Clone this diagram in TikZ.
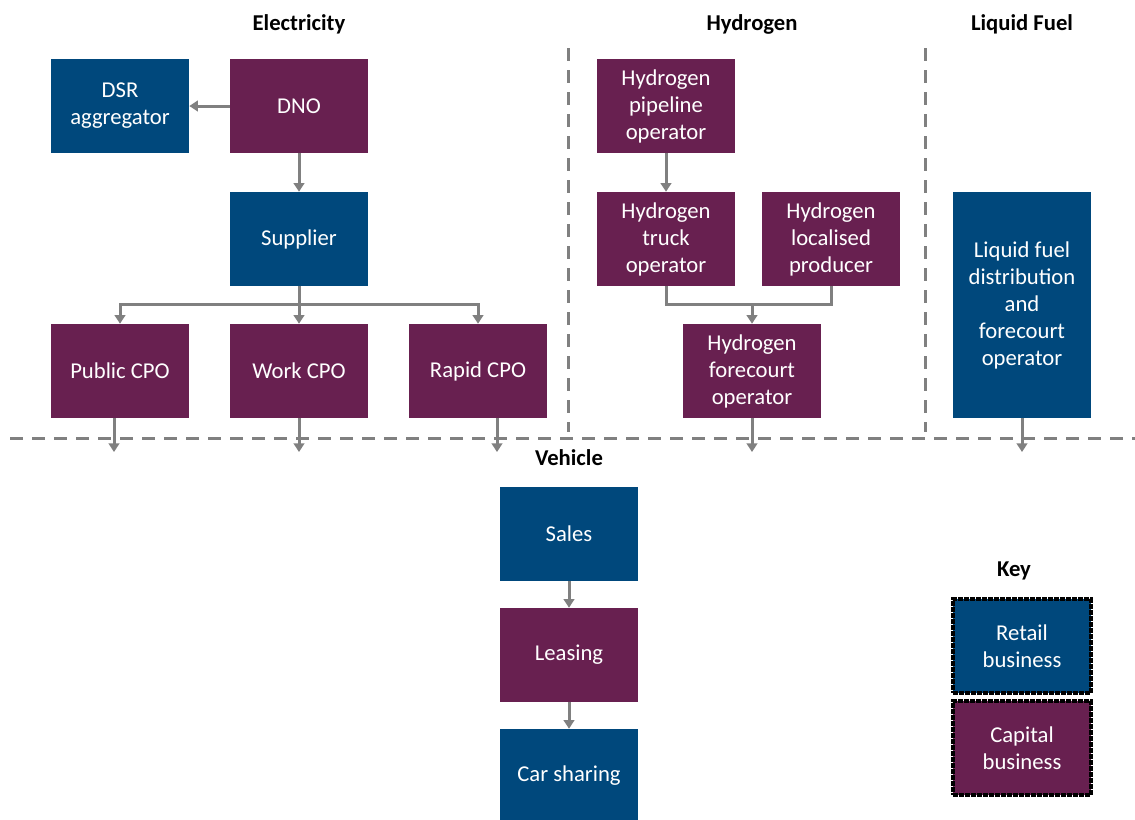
\documentclass[tikz,border=0pt]{standalone}
\usepackage{fontspec}
\setmainfont{Carlito}
\usetikzlibrary{arrows.meta}

\definecolor{retailblue}{RGB}{0,72,124}
\definecolor{capitalpurple}{RGB}{104,32,80}
\definecolor{linkgrey}{RGB}{128,128,128}

\tikzset{
  box/.style={minimum width=103.5pt, minimum height=70.5pt, inner sep=0pt,
    align=center, text=white, font=\fontsize{17}{20.25}\selectfont},
  retail/.style={box, fill=retailblue},
  capital/.style={box, fill=capitalpurple},
  heading/.style={font=\fontsize{17}{20}\selectfont\bfseries},
  link/.style={draw=linkgrey, line width=2.25pt},
  flow/.style={link, -{Triangle[width=8pt,length=6.5pt]}},
  divider/.style={draw=linkgrey, line width=2.25pt, dash pattern=on 10pt off 6.5pt},
  keybox/.style={draw=black, line width=2.4pt, dash pattern=on 3.5pt off 1pt}
}

\begin{document}
\begin{tikzpicture}[x=0.75pt, y=-0.75pt]
  \useasboundingbox (0,0) rectangle (1135,819);

  % sector dividers
  \draw[divider] (568,48) -- (568,432);
  \draw[divider] (925,48) -- (925,432);
  \draw[divider] (10,438) -- (1135,438);

  % headings
  \node[heading] (helec) at (299,24) {Electricity};
  \node[heading] (hhyd) at (752,24) {Hydrogen};
  \node[heading] (hliq) at (1022,24) {Liquid Fuel};
  \node[heading] (hveh) at (569,458) {Vehicle};
  \node[heading] (hkey) at (1014,571) {Key};

  % electricity
  \node[retail] (dsr) at (120,106) {DSR\\aggregator};
  \node[capital] (dno) at (299,106) {DNO};
  \node[retail] (supplier) at (299,239) {Supplier};
  \node[capital] (public) at (120,371) {Public CPO};
  \node[capital] (work) at (299,371) {Work CPO};
  \node[capital] (rapid) at (478,371) {Rapid CPO};

  % hydrogen
  \node[capital] (h2pipe) at (666,106) {Hydrogen\\pipeline\\operator};
  \node[capital] (h2truck) at (666,239) {Hydrogen\\truck\\operator};
  \node[capital] (h2local) at (831,239) {Hydrogen\\localised\\producer};
  \node[capital] (h2forecourt) at (752,371) {Hydrogen\\forecourt\\operator};

  % liquid fuel
  \node[retail, minimum height=169.5pt] (liquid) at (1022,305)
    {Liquid fuel\\distribution\\and\\forecourt\\operator};

  % vehicle
  \node[retail] (sales) at (569,534) {Sales};
  \node[capital] (leasing) at (569,655) {Leasing};
  \node[retail] (carshare) at (569,776) {Car sharing};

  % key
  \node[retail, keybox] (keyretail) at (1022,646) {Retail\\business};
  \node[capital, keybox] (keycapital) at (1022,748) {Capital\\business};

  % electricity links
  \draw[flow] (dno) -- (dsr);
  \draw[flow] (dno) -- (supplier);
  \coordinate (split) at (299,304);
  \draw[link] (supplier) -- (split);
  \draw[flow] (split) -| (public);
  \draw[flow] (split) -- (work);
  \draw[flow] (split) -| (rapid);

  % hydrogen links
  \draw[flow] (h2pipe) -- (h2truck);
  \coordinate (h2join) at (752,304);
  \draw[link] (h2truck) |- (h2join) -| (h2local);
  \draw[flow] (h2join) -- (h2forecourt);

  % into vehicle
  \coordinate (vpublic) at (114,452);
  \coordinate (vwork) at (299,452);
  \coordinate (vrapid) at (497,452);
  \coordinate (vh2) at (752,452);
  \coordinate (vliquid) at (1022,452);
  \draw[flow] (public.south -| vpublic) -- (vpublic);
  \draw[flow] (work) -- (vwork);
  \draw[flow] (rapid.south -| vrapid) -- (vrapid);
  \draw[flow] (h2forecourt) -- (vh2);
  \draw[flow] (liquid) -- (vliquid);

  % vehicle chain
  \draw[flow] (sales) -- (leasing);
  \draw[flow] (leasing) -- (carshare);
\end{tikzpicture}
\end{document}
